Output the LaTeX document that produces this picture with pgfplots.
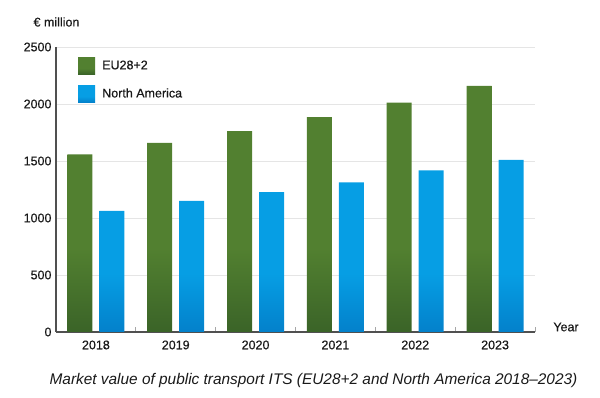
\documentclass[border=0pt]{standalone}
\usepackage{fontspec}
\setmainfont{Liberation Sans}
\newfontfamily\medfont[FakeBold=0.5]{Liberation Sans}
\usepackage{pgfplots}
\pgfplotsset{compat=1.18}
\definecolor{eutop}{RGB}{82,128,48}
\definecolor{eubot}{RGB}{24,58,28}
\definecolor{natop}{RGB}{6,158,228}
\definecolor{nabot}{RGB}{0,86,166}
\definecolor{axisgray}{RGB}{80,80,80}
\pgfdeclareverticalshading{eushade}{100bp}{color(0bp)=(eubot); color(42bp)=(eutop); color(100bp)=(eutop)}
\pgfdeclareverticalshading{nashade}{100bp}{color(0bp)=(nabot); color(42bp)=(natop); color(100bp)=(natop)}
\begin{document}
\begin{tikzpicture}[x=1pt,y=1pt]
\useasboundingbox (-56,-66) rectangle (544,332);
\begin{axis}[
  at={(0,0)}, anchor=south west,
  scale only axis, width=479pt, height=285pt,
  xmin=-0.5, xmax=5.5, ymin=0, ymax=2500,
  axis lines=left,
  axis line style={-, draw=axisgray, line width=1.1pt},
  ybar=7pt, bar width=25pt,
  xtick={0,1,2,3,4,5},
  xticklabels={2018,2019,2020,2021,2022,2023},
  minor xtick={0.5,1.5,2.5,3.5,4.5,5.5},
  major x tick style={draw=none},
  minor x tick style={draw=gray!70, line width=0.8pt},
  minor tick length=5pt,
  tick align=inside,
  ytick={0,500,1000,1500,2000,2500},
  major y tick style={draw=none},
  ymajorgrids,
  grid style={draw=gray!20, line width=0.9pt},
  tick label style={font=\medfont\fontsize{12.5}{14}\selectfont, text=black!90},
  /pgf/number format/assume math mode=true,
  /pgf/number format/1000 sep={},
  yticklabel style={xshift=-1pt},
  xticklabel style={yshift=-5pt},
  legend style={at={(0.046,0.965)}, anchor=north west, draw=none, fill=none,
    inner sep=0pt, row sep=11pt, font=\medfont\fontsize{12.5}{14}\selectfont, text=black!90,
    /tikz/every odd column/.append style={column sep=5pt}},
  legend cell align=left,
  legend image code/.code={\path[#1] (0pt,-8.5pt) rectangle (17pt,8.5pt);},
]
\addplot[draw=none, shade, shading=eushade] coordinates {(0,1557) (1,1659) (2,1762) (3,1885) (4,2013) (5,2159)};
\addplot[draw=none, shade, shading=nashade] coordinates {(0,1063) (1,1151) (2,1227) (3,1312) (4,1417) (5,1510)};
\legend{EU28+2, North America}
\end{axis}
\node[font=\medfont\fontsize{12.5}{14}\selectfont, text=black!90] at (0.5,310) {€ million};
\node[font=\medfont\fontsize{12.5}{14}\selectfont, text=black!90] at (510,5) {Year};
\node[font=\fontsize{15.4}{18}\selectfont\itshape, text=black!90] at (257.5,-49) {Market value of public transport ITS (EU28+2 and North America 2018–2023)};
\end{tikzpicture}
\end{document}
